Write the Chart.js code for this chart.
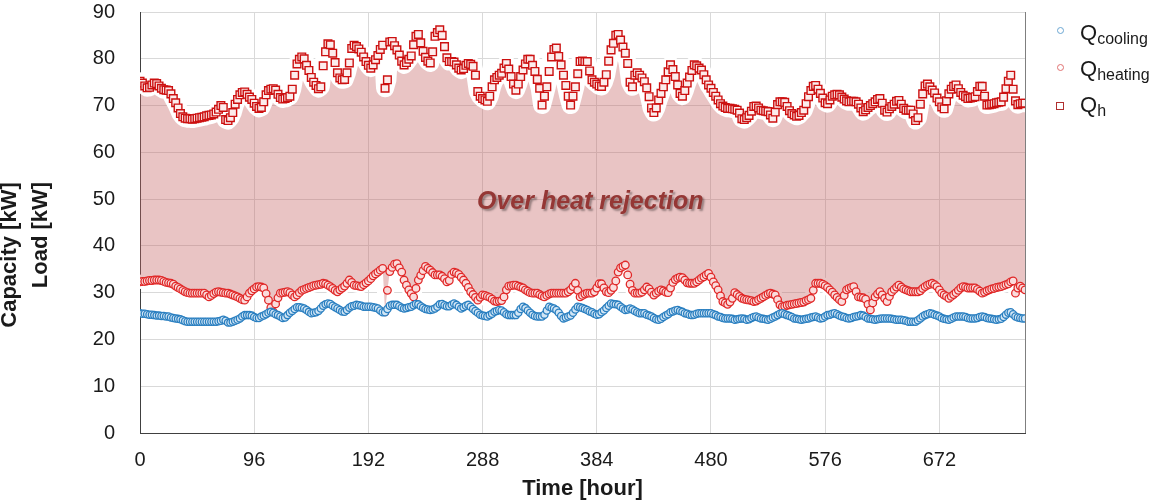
<!DOCTYPE html>
<html>
<head>
<meta charset="utf-8">
<script src="https://cdn.jsdelivr.net/npm/chart.js@4.4.1/dist/chart.umd.min.js"></script>
<style>
  html, body { margin: 0; padding: 0; background: #ffffff; }
  #wrap { position: relative; width: 1157px; height: 500px; overflow: hidden; font-family: 'Liberation Sans', Arial, sans-serif; }
  #c { position: absolute; left: 0; top: 0; }
  .ytitle { position: absolute; white-space: nowrap; font-weight: bold; font-size: 22px; line-height: 22px; color: #1a1a1a;
            transform: translate(-50%, -50%) rotate(-90deg); }
  .leg { position: absolute; left: 1080px; white-space: nowrap; font-size: 22px; line-height: 22px; color: #1a1a1a; }
  .leg sub { font-size: 16px; vertical-align: -4px; line-height: 0; }
  .mk { position: absolute; box-sizing: border-box; background: #fff; }
  #note { position: absolute; left: 477px; top: 188px; white-space: nowrap; font-weight: bold; font-style: italic;
          font-size: 25px; line-height: 24px; color: #953735; text-shadow: 2px 2px 2px rgba(0,0,0,0.35); }
</style>
</head>
<body>
<div id="wrap">
  <canvas id="c" width="1157" height="500"></canvas>
  <div class="ytitle" style="left:9px; top:255px;">Capacity [kW]</div>
  <div class="ytitle" style="left:40px; top:235px;">Load [kW]</div>
  <div class="mk" style="left:1057px; top:27px; width:7px; height:7px; border:1px solid #6aa6d2; border-radius:50%;"></div>
  <div class="mk" style="left:1057px; top:64px; width:7px; height:7px; border:1px solid #e07070; border-radius:50%;"></div>
  <div class="mk" style="left:1056px; top:102px; width:8px; height:8px; border:1px solid #b03030;"></div>
  <div class="leg" style="top:22px;">Q<sub>cooling</sub></div>
  <div class="leg" style="top:58px;">Q<sub>heating</sub></div>
  <div class="leg" style="top:94px;">Q<sub>h</sub></div>
  <div id="note">Over heat rejection</div>
</div>
<script>
// Values every 2 hours (0 ... 744 h), 12 values = 24 h per row
const qh = [
  75.2,74.8,74.2,73.8,73.9,74.4,74.8,74.7,74.2,73.7,73.4,73.3,
  73.2,72.5,71.5,70.6,69.5,68.3,67.6,67.3,67.2,67.2,67.1,67.2,
  67.3,67.4,67.5,67.6,67.8,67.9,68.0,68.2,68.6,69.2,70.0,69.6,
  67.0,66.8,67.4,68.5,70.3,71.3,72.3,72.8,72.9,72.4,71.8,71.3,
  70.5,69.8,69.4,69.6,70.8,72.3,73.2,73.5,73.6,73.3,72.4,71.7,
  71.4,71.5,71.7,72.0,73.5,76.5,78.9,79.9,80.4,80.0,78.6,77.5,
  76.0,75.0,74.3,73.6,74.0,78.5,81.5,83.2,83.0,81.2,79.2,77.0,
  75.9,75.5,75.6,77.0,79.1,82.2,82.9,82.6,82.1,81.4,80.4,79.4,
  78.6,78.0,78.7,79.8,80.7,82.0,82.9,73.7,75.5,83.6,83.7,82.8,
  81.9,80.8,79.5,78.7,79.2,79.9,80.6,83.0,84.8,85.2,83.4,81.6,
  80.3,79.5,79.1,81.5,84.8,85.6,86.2,85.0,82.6,80.2,79.4,79.4,
  79.3,78.7,78.0,77.6,77.9,78.6,79.0,78.8,78.4,76.5,73.0,72.0,
  71.5,71.2,70.9,72.0,74.0,75.5,76.0,76.5,76.9,78.0,79.0,77.8,
  76.2,74.6,73.3,74.6,76.2,77.6,78.9,79.9,79.9,78.6,77.3,75.6,
  73.7,70.1,72.0,74.0,77.3,80.4,82.0,82.3,80.5,78.7,76.5,74.3,
  72.0,70.1,72.0,74.0,76.8,79.4,79.5,79.4,79.4,77.4,75.5,75.0,
  74.6,74.2,74.1,75.0,76.6,79.5,81.9,83.3,85.0,85.2,84.0,82.5,
  81.2,79.0,75.0,74.0,76.5,77.0,76.5,75.9,75.1,73.8,71.9,69.5,
  68.5,69.5,71.2,72.6,74.0,75.5,77.2,78.7,77.7,76.2,74.4,72.6,
  72.0,73.2,74.8,76.1,77.5,78.7,78.5,78.0,77.6,76.6,75.5,74.4,
  73.7,72.8,72.0,71.2,70.4,69.9,69.6,69.4,69.4,69.3,69.2,69.0,
  68.4,67.2,67.0,67.4,67.9,68.8,69.8,69.9,69.5,69.0,68.9,68.8,
  68.7,68.0,67.3,68.6,70.2,70.8,70.8,70.7,69.8,68.9,68.3,68.0,
  67.7,67.9,68.5,69.0,70.4,71.9,73.2,74.1,74.3,73.5,72.6,71.6,
  70.6,70.4,71.2,72.0,72.3,72.4,72.3,71.8,71.4,71.0,70.8,70.9,
  70.9,70.8,70.3,69.5,68.7,69.1,69.6,70.0,70.4,70.8,71.3,71.5,
  70.5,69.0,68.6,69.3,69.8,70.3,70.9,71.1,70.3,69.4,69.0,69.0,
  69.0,68.2,66.8,67.4,70.3,72.5,74.2,74.6,74.0,73.3,72.7,71.6,
  70.8,69.7,69.3,71.0,72.5,73.5,74.1,74.4,73.6,72.8,72.2,71.9,
  71.5,71.6,71.7,71.9,73.0,74.1,74.1,72.0,70.1,70.2,70.3,70.4,
  70.6,70.7,70.8,71.8,73.6,75.2,76.5,73.5,71.0,70.2,70.4,70.5,
  70.5
];
const qHeating = [
  32.3,32.4,32.4,32.5,32.6,32.6,32.7,32.7,32.7,32.6,32.4,32.2,
  32.1,32.0,31.8,31.4,31.1,30.8,30.5,30.2,30.0,29.9,29.9,29.9,
  29.9,29.9,29.9,29.9,29.5,29.1,29.4,29.8,30.1,30.2,30.1,30.0,
  29.9,29.9,29.7,29.5,29.3,29.1,28.8,28.5,28.4,29.1,29.9,30.4,
  30.8,31.2,31.3,31.2,31.0,29.8,28.4,26.8,25.9,27.6,28.9,29.9,
  30.0,30.1,30.2,30.0,29.5,29.1,29.5,30.0,30.5,30.7,30.9,31.1,
  31.3,31.5,31.6,31.7,31.8,32.0,31.9,31.6,31.3,30.9,30.5,30.2,
  30.6,31.0,31.4,32.0,32.7,32.2,31.6,31.5,31.4,31.3,31.7,32.1,
  32.5,33.0,33.6,34.0,34.4,34.8,35.2,25.9,30.5,34.5,35.4,36.1,
  36.2,35.3,34.4,32.7,31.6,30.6,29.8,29.1,30.9,32.7,33.7,34.7,
  35.6,35.2,34.8,34.3,33.8,33.8,33.8,33.5,33.0,32.3,32.6,33.9,
  34.4,34.2,33.9,33.3,32.7,32.0,31.1,30.2,29.6,29.0,28.4,29.0,
  29.5,29.4,29.2,29.0,28.6,28.2,28.1,28.2,28.3,29.1,30.6,31.4,
  31.5,31.6,31.6,31.4,31.2,31.0,30.6,30.3,30.0,29.9,29.9,29.9,
  29.6,29.3,29.1,29.4,29.7,29.9,29.9,29.9,29.9,29.9,29.9,29.9,
  30.2,30.6,31.3,32.0,30.5,29.1,29.4,29.7,29.9,29.9,29.9,30.2,
  31.0,31.9,31.9,31.0,30.2,30.0,30.5,31.1,32.5,34.4,35.3,35.6,
  35.9,33.8,31.8,30.5,29.9,29.9,29.9,30.1,30.6,31.2,30.8,30.1,
  29.5,29.9,30.3,30.6,30.4,30.1,30.0,31.0,32.2,32.8,33.1,33.3,
  33.2,32.7,32.1,32.0,32.0,32.0,32.3,32.7,33.1,33.4,33.8,34.1,
  33.3,32.3,31.5,30.6,29.3,28.1,27.8,27.5,28.0,28.8,30.0,29.6,
  29.2,28.8,28.6,28.5,28.4,28.3,28.1,28.2,28.5,28.8,29.1,29.4,
  29.7,29.9,29.7,29.5,28.5,27.4,27.0,27.1,27.3,27.4,27.5,27.6,
  27.7,27.8,27.9,28.0,28.3,28.5,28.8,30.5,32.0,32.0,32.0,31.8,
  31.5,31.1,30.6,30.1,29.5,29.0,28.5,28.1,29.4,30.6,30.9,31.1,
  31.3,30.2,29.1,29.0,28.9,28.6,27.5,26.3,27.8,29.1,29.7,30.2,
  29.5,28.8,28.1,29.2,30.2,30.7,31.2,31.6,31.2,30.8,30.6,30.4,
  30.2,30.2,30.2,30.2,30.4,30.9,31.3,31.6,31.8,32.0,31.7,31.3,
  30.6,29.9,29.5,29.2,28.8,29.2,29.6,30.0,30.5,31.0,31.3,31.2,
  31.0,31.0,31.0,31.0,30.7,30.3,29.9,30.1,30.4,30.6,30.8,30.9,
  31.1,31.2,31.3,31.5,31.7,31.9,32.3,32.5,29.9,31.0,31.4,31.0,
  30.6
];
const qCooling = [
  25.6,25.5,25.5,25.4,25.3,25.3,25.2,25.1,25.1,25.0,25.0,24.9,
  24.9,24.7,24.6,24.5,24.4,24.3,24.1,23.9,23.8,23.8,23.8,23.8,
  23.8,23.8,23.8,23.8,23.8,23.8,23.8,23.8,23.8,23.9,24.0,24.2,
  24.0,23.6,23.6,23.8,24.0,24.2,24.5,24.9,25.2,25.2,25.2,25.1,
  24.8,24.6,24.6,24.9,25.1,25.4,25.7,25.9,25.7,25.4,25.2,24.9,
  24.6,24.7,25.2,25.7,26.1,26.5,26.9,26.9,26.8,26.6,26.3,25.9,
  25.6,25.7,25.8,26.1,26.6,27.2,27.5,27.7,27.6,27.2,26.9,26.6,
  26.3,26.0,25.9,26.3,26.8,27.1,27.2,27.4,27.3,27.2,27.0,27.0,
  27.0,27.0,26.9,26.8,26.6,26.2,25.8,25.8,26.5,27.2,27.4,27.4,
  27.4,27.1,26.8,26.6,26.7,26.9,27.0,27.3,27.6,27.5,27.1,26.8,
  26.5,26.4,26.3,26.4,26.6,27.0,27.5,27.6,27.3,27.1,27.1,27.4,
  27.7,27.4,27.0,26.6,26.9,27.2,27.4,27.0,26.5,26.1,25.7,25.3,
  25.1,25.0,24.9,25.2,25.5,25.9,26.1,26.3,26.2,25.8,25.4,25.2,
  25.2,25.2,25.2,25.7,26.5,27.0,26.7,26.2,25.7,25.3,25.0,24.9,
  24.9,24.9,25.3,26.2,27.0,26.8,26.6,26.3,25.7,25.0,24.5,24.7,
  24.9,25.1,25.7,26.4,27.0,26.9,26.7,26.5,26.3,26.0,25.8,25.5,
  25.3,25.4,25.8,26.2,26.7,27.2,27.7,27.6,27.5,27.4,27.0,26.6,
  26.3,26.4,26.6,26.4,26.1,25.8,25.6,25.6,25.6,25.3,25.1,24.9,
  24.6,24.3,24.2,24.4,24.8,25.1,25.4,25.8,26.0,26.2,26.3,26.1,
  25.9,25.6,25.5,25.3,25.2,25.3,25.5,25.6,25.6,25.6,25.6,25.6,
  25.6,25.4,25.2,24.9,24.8,24.6,24.5,24.5,24.5,24.4,24.2,24.3,
  24.4,24.5,24.4,24.2,24.3,24.6,24.8,24.9,24.7,24.5,24.4,24.3,
  24.2,24.4,24.7,24.9,25.2,25.5,25.6,25.4,25.2,25.0,24.8,24.5,
  24.4,24.3,24.2,24.3,24.4,24.5,24.7,24.8,24.9,24.7,24.5,24.6,
  24.9,25.2,25.3,25.5,25.6,25.4,25.1,24.9,24.8,24.6,24.5,24.6,
  24.8,24.9,25.0,25.2,25.1,24.8,24.5,24.4,24.3,24.2,24.3,24.4,
  24.5,24.5,24.5,24.5,24.4,24.3,24.2,24.2,24.2,24.1,24.0,23.8,
  23.8,23.8,23.8,24.1,24.5,24.9,25.2,25.4,25.6,25.5,25.3,25.1,
  24.9,24.6,24.4,24.3,24.2,24.4,24.7,24.9,24.9,24.9,24.9,24.8,
  24.6,24.5,24.5,24.5,24.6,24.8,24.9,24.8,24.6,24.5,24.4,24.3,
  24.2,24.3,24.4,24.8,25.3,25.7,25.8,25.4,24.9,24.7,24.6,24.5,
  24.5
];
const hourStep = 2;
const hours = qh.map((_, i) => i * hourStep);
const xTickStep = 96;
const xMax = 744;
const yTickStep = 10;
const yMax = 90;

const toXY = arr => arr.map((v, i) => ({ x: hours[i], y: v }));

const frame = {
  id: 'frame',
  beforeDatasetsDraw(chart) {
    const { ctx, chartArea: a } = chart;
    ctx.save();
    ctx.strokeStyle = '#7f7f7f';
    ctx.lineWidth = 1;
    ctx.beginPath();
    ctx.moveTo(Math.round(a.right) + 0.5, a.top);
    ctx.lineTo(Math.round(a.right) + 0.5, a.bottom);
    ctx.stroke();
    ctx.restore();
  }
};

const tickFont = { family: "'Liberation Sans', Arial, sans-serif", size: 20 };

new Chart(document.getElementById('c'), {
  type: 'line',
  data: {
    datasets: [
      { label: 'Qcooling', data: toXY(qCooling), showLine: false, pointStyle: 'circle', pointRadius: 3.6,
        pointBorderColor: '#2a7fc0', pointBackgroundColor: '#d2e6f5', pointBorderWidth: 1.3, order: 0 },
      { label: 'Qheating', data: toXY(qHeating), showLine: false, pointStyle: 'circle', pointRadius: 3.8,
        pointBorderColor: '#e02828', pointBackgroundColor: '#fadcdc', pointBorderWidth: 1.3, order: 0 },
      { label: 'Qh', data: toXY(qh), showLine: false, pointStyle: 'rect', pointRadius: 5.4,
        pointBorderColor: '#cc1010', pointBackgroundColor: '#fcecec', pointBorderWidth: 1.4, order: 0 },
      { label: 'bandTop', data: toXY(qh), pointRadius: 0, borderColor: '#ffffff', borderWidth: 18,
        borderJoinStyle: 'round', borderCapStyle: 'round', fill: '+1', backgroundColor: 'rgba(196,100,100,0.38)', order: 5 },
      { label: 'bandBottom', data: toXY(qHeating), pointRadius: 0, borderColor: '#ffffff', borderWidth: 14,
        borderJoinStyle: 'round', borderCapStyle: 'round', fill: false, order: 6 }
    ]
  },
  options: {
    responsive: false,
    animation: false,
    devicePixelRatio: 1,
    layout: { padding: { left: 0, right: 132, top: 12, bottom: 0 } },
    plugins: { legend: { display: false }, tooltip: { enabled: false } },
    scales: {
      x: {
        type: 'linear', min: 0, max: xMax,
        afterFit(s) { s.height = 67; s.paddingLeft = 0; s.paddingRight = 0; },
        grid: { color: '#d9d9d9', drawTicks: false },
        border: { display: true, color: '#404040', width: 1 },
        ticks: { stepSize: xTickStep, includeBounds: false, padding: 15, color: '#1a1a1a', font: tickFont, maxRotation: 0 },
        title: { display: true, text: 'Time [hour]', color: '#1a1a1a', padding: { top: 0, bottom: 0 },
                 font: { family: "'Liberation Sans', Arial, sans-serif", size: 22, weight: 'bold', lineHeight: 1 } }
      },
      y: {
        type: 'linear', min: 0, max: yMax,
        afterFit(s) { s.width = 140; s.paddingTop = 0; s.paddingBottom = 0; },
        grid: { color: '#d9d9d9', drawTicks: false },
        border: { display: true, color: '#404040', width: 1 },
        ticks: { stepSize: yTickStep, padding: 25, color: '#1a1a1a', font: tickFont }
      }
    }
  },
  plugins: [frame]
});
</script>
</body>
</html>
